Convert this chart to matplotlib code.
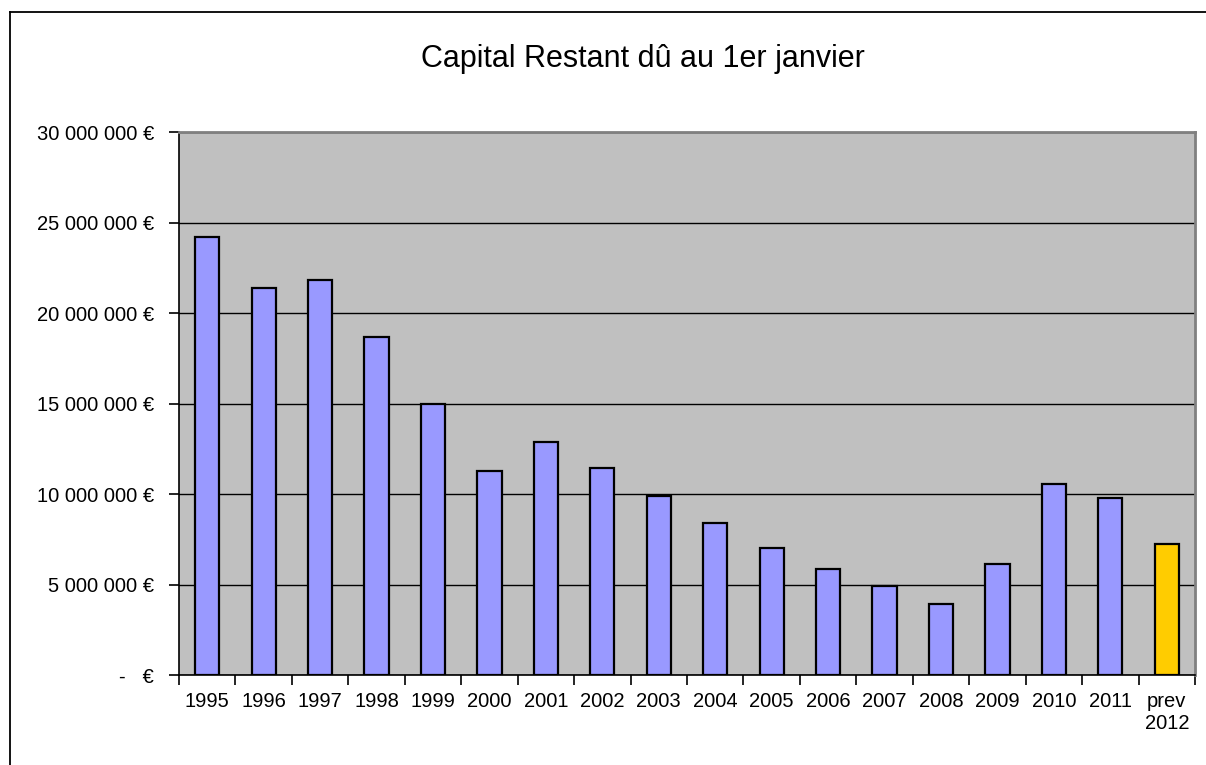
"""
Capital restant dû au 1er janvier - bar chart
"""
import matplotlib
matplotlib.use("Agg")
import matplotlib.pyplot as plt
from matplotlib.ticker import FuncFormatter, FixedLocator, NullFormatter
from matplotlib.lines import Line2D

plt.rcParams['font.family'] = ['Liberation Sans', 'DejaVu Sans']

years = ['1995', '1996', '1997', '1998', '1999', '2000', '2001', '2002', '2003',
         '2004', '2005', '2006', '2007', '2008', '2009', '2010', '2011', 'prev\n2012']
capital = [24200000, 21400000, 21850000, 18650000, 15000000, 11250000, 12900000,
           11450000, 9880000, 8420000, 7010000, 5850000, 4900000, 3930000,
           6110000, 10550000, 9760000, 7220000]
bar_colors = ['#9999FF'] * 17 + ['#FFCC00']


def euro_fmt(v, pos):
    if v == 0:
        return '-   €'
    return f"{int(v):,}".replace(',', ' ') + ' €'


fig = plt.figure(figsize=(12.06, 7.65), dpi=100)
ax = fig.add_axes([0.1484, 0.1176, 0.8425, 0.7098])
ax.set_facecolor('#C0C0C0')

x = list(range(len(years)))
ax.bar(x, capital, width=0.43, color=bar_colors, edgecolor='black',
       linewidth=1.6, zorder=3)

ax.set_ylim(0, 30000000)
ax.set_xlim(-0.5, len(years) - 0.5)
ax.set_yticks(range(0, 30000001, 5000000))
ax.yaxis.set_major_formatter(FuncFormatter(euro_fmt))
ax.grid(axis='y', color='black', linewidth=1.0, zorder=1)
ax.set_axisbelow(True)

# category labels in the middle, ticks on the boundaries
ax.xaxis.set_major_locator(FixedLocator([i - 0.5 for i in range(len(years) + 1)]))
ax.xaxis.set_major_formatter(NullFormatter())
ax.xaxis.set_minor_locator(FixedLocator(x))
ax.set_xticklabels(years, minor=True)
ax.tick_params(axis='x', which='minor', length=0, pad=12, labelsize=14.5)
ax.tick_params(axis='x', which='major', length=7, width=1.2, direction='out')
ax.tick_params(axis='y', length=7, width=1.2, direction='out', labelsize=14.5, pad=11)

ax.spines['left'].set_color('black')
ax.spines['bottom'].set_color('black')
ax.spines['left'].set_linewidth(1.2)
ax.spines['bottom'].set_linewidth(1.2)
ax.spines['top'].set_color('#808080')
ax.spines['right'].set_color('#808080')
ax.spines['top'].set_linewidth(2)
ax.spines['right'].set_linewidth(2)

fig.text(0.533, 0.923, 'Capital Restant dû au 1er janvier', ha='center',
         va='center', fontsize=22)

# outer chart frame (only left and top visible)
fig.add_artist(Line2D([0.0079, 0.0079], [0.984, 0.0], transform=fig.transFigure,
                      color='black', linewidth=1.3))
fig.add_artist(Line2D([0.0079, 1.0], [0.984, 0.984], transform=fig.transFigure,
                      color='black', linewidth=1.3))

fig.savefig('out.png', dpi=100)
